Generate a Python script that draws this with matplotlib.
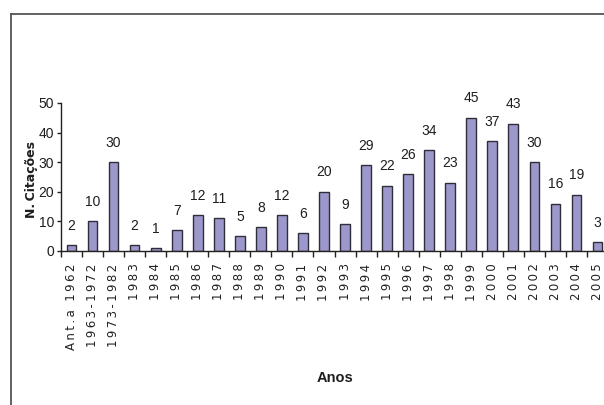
import matplotlib.pyplot as plt
from matplotlib.lines import Line2D

# data
categories = ['Ant.a 1962', '1963-1972', '1973-1982', '1983', '1984', '1985',
              '1986', '1987', '1988', '1989', '1990', '1991', '1992', '1993',
              '1994', '1995', '1996', '1997', '1998', '1999', '2000', '2001',
              '2002', '2003', '2004', '2005']
citations = [2, 10, 30, 2, 1, 7, 12, 11, 5, 8, 12, 6, 20, 9, 29, 22, 26, 34,
             23, 45, 37, 43, 30, 16, 19, 3]
y_ticks = [0, 10, 20, 30, 40, 50]

narrow = ['Liberation Sans', 'DejaVu Sans']

fig = plt.figure(figsize=(6.04, 4.05), dpi=100)
W, H = 604, 405

# axes placed in pixels; the plot runs off the right edge like the original
ax = fig.add_axes([61 / W, (H - 251) / H, 547 / W, 148 / H])

x = range(len(categories))
ax.bar(x, citations, width=0.46, color='#9d98cb', edgecolor='#2e2e3a',
       linewidth=1.0, zorder=2)

for i, v in enumerate(citations):
    ax.annotate(str(v), (i, v), xytext=(0, 14), textcoords='offset points',
                ha='center', va='center', fontsize=10, family=narrow,
                color='#1e1e1e')

ax.set_xlim(-0.5, len(categories) - 0.5)
ax.set_ylim(0, 50)
ax.set_yticks(y_ticks)
ax.set_yticklabels([str(t) for t in y_ticks], family=narrow, fontsize=10,
                   color='#1e1e1e')

# category labels with tick marks between the bars
ax.set_xticks(list(x))
spaced = ['\u2009'.join(c) for c in categories]
ax.set_xticklabels(spaced, rotation=90, va='top', ha='center',
                   fontsize=8.5, family=['DejaVu Sans'], color='#222222')
ax.tick_params(axis='x', length=0, pad=9)
ax.set_xticks([i + 0.5 for i in range(-1, len(categories))], minor=True)
ax.tick_params(axis='x', which='minor', length=4, width=1, color='#222222')
ax.tick_params(axis='y', length=3, width=1, color='#222222', pad=2)

for side in ['top', 'right']:
    ax.spines[side].set_visible(False)
for side in ['left', 'bottom']:
    ax.spines[side].set_color('#222222')
    ax.spines[side].set_linewidth(1.0)

fig.text(31 / W, 1 - 180 / H, 'N.\u2009Citações', rotation=90, ha='center',
         va='center', fontsize=9, fontweight='bold', family=['DejaVu Sans'],
         color='#1e1e1e')
fig.text(335 / W, 1 - 378 / H, 'Anos', ha='center', va='center', fontsize=10.5,
         fontweight='bold', family=narrow, color='#1e1e1e')

# frame around the chart area (top and left edges visible)
fig.add_artist(Line2D([11 / W, 1], [1 - 14 / H, 1 - 14 / H], color='#555555',
                      linewidth=1.3, transform=fig.transFigure))
fig.add_artist(Line2D([11 / W, 11 / W], [0, 1 - 14 / H], color='#555555',
                      linewidth=1.3, transform=fig.transFigure))

fig.savefig('out.png', dpi=100)
